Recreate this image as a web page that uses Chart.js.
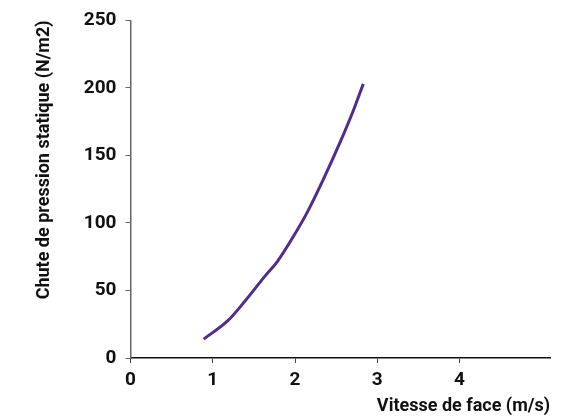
<!DOCTYPE html>
<html>
<head>
<meta charset="utf-8">
<script src="https://cdn.jsdelivr.net/npm/chart.js@4/dist/chart.umd.min.js"></script>
<style>
  html, body { margin: 0; padding: 0; background: #fff; }
  #wrap { width: 585px; height: 417px; }
</style>
</head>
<body>
<div id="wrap"><canvas id="chart" width="585" height="417"></canvas></div>
<script>
// vitesse de face (m/s)
const vitesse = [0.89, 1.19, 1.39, 1.64, 1.78, 2.0, 2.15, 2.35, 2.55, 2.72, 2.83];
// chute de pression statique (N/m2)
const chute = [14, 28, 42, 61, 71, 92, 108, 133, 160, 185, 203];
// graduations
const xTicks = [0, 1, 2, 3, 4];
const yTicks = [0, 50, 100, 150, 200, 250];

const tickFont = { family: 'Roboto', weight: 'bold', size: 19 };
const titleFont = { family: 'Roboto', weight: 'bold', size: 18 };

const points = vitesse.map((v, i) => ({ x: v, y: chute[i] }));

new Chart(document.getElementById('chart'), {
    type: 'line',
    data: {
        datasets: [{
            data: points,
            borderColor: '#4f2d8f',
            borderWidth: 3,
            pointRadius: 0,
            cubicInterpolationMode: 'monotone',
            fill: false
        }]
    },
    options: {
        responsive: false,
        animation: false,
        layout: { padding: { top: 20, right: 35, bottom: 0, left: 0 } },
        plugins: { legend: { display: false }, tooltip: { enabled: false } },
        scales: {
            x: {
                type: 'linear',
                min: 0,
                max: 5.1,
                afterBuildTicks: scale => {
                    scale.ticks = xTicks.map(v => ({ value: v }));
                },
                afterFit: scale => { scale.height = 59; },
                border: { color: '#111', width: 1.5 },
                grid: { drawOnChartArea: false, tickLength: 5, color: '#444' },
                ticks: { color: '#111', font: tickFont, padding: 6, maxRotation: 0 },
                title: {
                    display: true,
                    text: 'Vitesse de face (m/s)',
                    align: 'end',
                    color: '#111',
                    font: titleFont,
                    padding: { top: 0, bottom: 0 }
                }
            },
            y: {
                min: 0,
                max: 250,
                afterBuildTicks: scale => {
                    scale.ticks = yTicks.map(v => ({ value: v }));
                },
                afterFit: scale => { scale.width = 130.5; },
                border: { color: '#666', width: 1.5 },
                grid: { drawOnChartArea: false, tickLength: 5, color: '#666' },
                ticks: { color: '#111', font: tickFont, padding: 9 },
                title: {
                    display: true,
                    text: 'Chute de pression statique (N/m2)',
                    align: 'end',
                    color: '#111',
                    font: titleFont,
                    padding: { top: 34, bottom: 0 }
                }
            }
        }
    }
});
</script>
</body>
</html>
